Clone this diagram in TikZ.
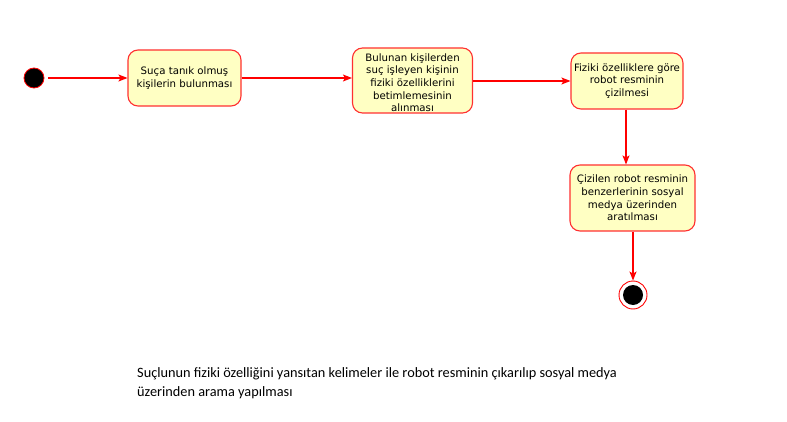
\documentclass[tikz,border=0pt]{standalone}
\usepackage{fontspec}
\setmainfont{DejaVu Sans}
\newfontfamily\capfont{Carlito}
\usetikzlibrary{arrows.meta}
\definecolor{boxfill}{HTML}{FFFFC3}
\definecolor{boxline}{HTML}{FF3030}
\tikzset{
  x=1pt,y=-1pt,
  act/.style={draw=boxline,fill=boxfill,line width=1.1pt,rounded corners=10pt,align=center,inner sep=0pt,
    font=\fontsize{10.2}{12.7}\selectfont},
  flow/.style={draw=red,line width=1.1pt,-{Stealth[length=9pt,width=7pt,inset=2pt]}},
}
\begin{document}
\begin{tikzpicture}
\useasboundingbox[fill=white] (0,0) rectangle (787,422);
\node[circle,fill=black,draw=red,line width=0.8pt,minimum size=20pt,inner sep=0pt] (start) at (34,78) {};
\node[act,minimum width=113pt,minimum height=56pt] (a1) at (184.5,78) {Suça tanık olmuş\\kişilerin bulunması};
\node[act,minimum width=120pt,minimum height=65pt,text height=63pt] (a2) at (412.5,80.5) {Bulunan kişilerden\\suç işleyen kişinin\\fiziki özelliklerini\\betimlemesinin\\alınması};
\node[act,minimum width=112pt,minimum height=56pt] (a3) at (627,81) {Fiziki özelliklere göre\\robot resminin\\çizilmesi};
\node[act,minimum width=125pt,minimum height=66pt] (a4) at (632.5,198) {Çizilen robot resminin\\benzerlerinin sosyal\\medya üzerinden\\aratılması};
\node[circle,draw=red,fill=white,line width=0.9pt,minimum size=28pt,inner sep=0pt] (end) at (633,295) {};
\node[circle,fill=black,minimum size=20pt,inner sep=0pt] (endin) at (end.center) {};
\draw[flow] (start.east) ++(4,0) coordinate (s0) -- (a1.west |- start.east);
\draw[flow] (a1.east) -- (a1.east -| a2.west);
\draw[flow] (a2.east |- a3.west) -- (a3.west);
\draw[flow] (a3.south -| 626,0) coordinate (c3) -- (c3 |- a4.north);
\draw[flow] (a4.south -| end.north) -- (end.north);
\node[anchor=north west,align=left,inner sep=0pt,font=\capfont\fontsize{14.3}{19.5}\selectfont] (cap) at (137,367)
  {Suçlunun fiziki özelliğini yansıtan kelimeler ile robot resminin çıkarılıp sosyal medya\\üzerinden arama yapılması};
\end{tikzpicture}
\end{document}
